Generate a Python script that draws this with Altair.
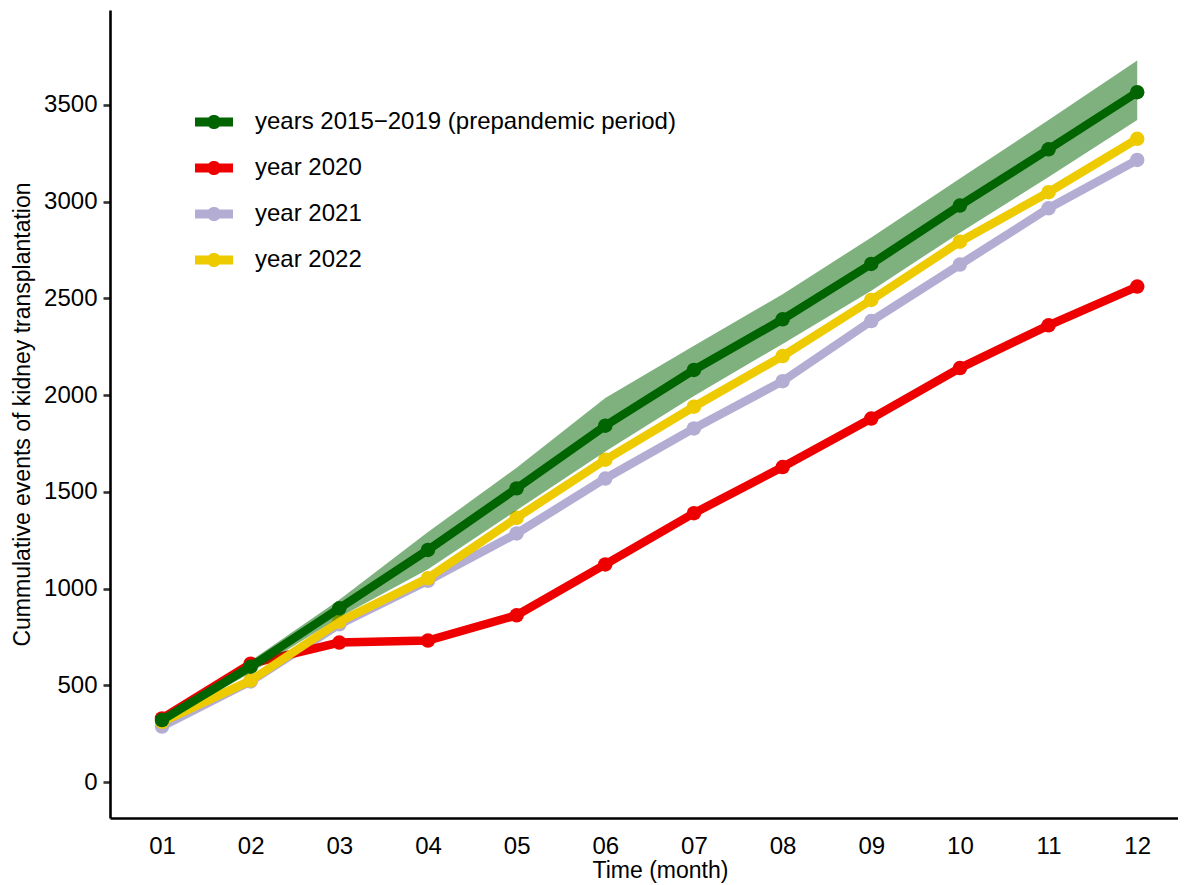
import math
import altair as alt
import pandas as pd

months = ["01", "02", "03", "04", "05", "06", "07", "08", "09", "10", "11", "12"]
series_names = ["years 2015\u22122019 (prepandemic period)", "year 2020", "year 2021", "year 2022"]
series_colors = ["#006400", "#EE0000", "#B3ADD3", "#EECA00"]

prepandemic = [320, 596, 898, 1200, 1518, 1842, 2130, 2392, 2678, 2980, 3271, 3566]
prepandemic_lower = [305, 565, 852, 1100, 1405, 1708, 1995, 2265, 2540, 2840, 3128, 3422]
prepandemic_upper = [335, 626, 942, 1292, 1625, 1985, 2255, 2522, 2815, 3120, 3422, 3730]
year2020 = [329, 612, 721, 731, 862, 1125, 1390, 1628, 1879, 2140, 2361, 2561]
year2021 = [287, 520, 815, 1040, 1285, 1569, 1828, 2072, 2383, 2675, 2966, 3216]
year2022 = [311, 525, 829, 1054, 1366, 1666, 1940, 2202, 2492, 2793, 3049, 3325]

y_ticks = [0, 500, 1000, 1500, 2000, 2500, 3000, 3500]

rows = []
for name, vals in zip(series_names, [prepandemic, year2020, year2021, year2022]):
    for i, (m, v) in enumerate(zip(months, vals)):
        rows.append({"series": name, "month": m, "mnum": i + 1, "value": v})
df = pd.DataFrame(rows)
band = pd.DataFrame({"month": months, "mnum": list(range(1, len(months) + 1)),
                     "lower": prepandemic_lower, "upper": prepandemic_upper})

FONT = "Liberation Sans"
month_label_expr = "[" + ",".join("'%s'" % m for m in months) + "][datum.value - 1]"

x_enc = alt.X(
    "mnum:Q",
    scale=alt.Scale(domain=[0.4134, 12.46], nice=False, zero=False),
    axis=alt.Axis(
        title="Time (month)", values=list(range(1, len(months) + 1)), labelExpr=month_label_expr,
        ticks=False, tickSize=0, labelPadding=16, labelFlush=False,
        titleX=550, titleY=59, titleBaseline="alphabetic", titleAlign="center",
    ),
)
y_scale = alt.Scale(domain=[-186, 3991], nice=False, zero=False)
y_enc = alt.Y(
    "value:Q",
    scale=y_scale,
    axis=alt.Axis(
        title="Cummulative events of kidney transplantation", values=y_ticks, format="d",
        tickSize=7, labelPadding=6, titleX=-88, titleY=404, titleAngle=270,
        titleBaseline="middle", titleAlign="center",
    ),
)

color_scale = alt.Scale(domain=series_names, range=series_colors)

# legend key glyph: a thick line segment with a dot in the middle (unit coords)
H = 0.24
R = 0.37


def _arc(a0, a1, n=12):
    pts = []
    for k in range(n + 1):
        a = math.radians(a0 + (a1 - a0) * k / n)
        pts.append("%.4f,%.4f" % (R * math.cos(a), R * math.sin(a)))
    return pts


a_top = math.degrees(math.atan2(-H, -math.sqrt(R * R - H * H)))
a_top2 = math.degrees(math.atan2(-H, math.sqrt(R * R - H * H)))
top_pts = _arc(a_top, a_top2)
bot_pts = _arc(-a_top2, -a_top)
legend_path = ("M-1,%.3f " % -H + " ".join("L" + p for p in top_pts)
               + " L1,%.3f L1,%.3f " % (-H, H) + " ".join("L" + p for p in bot_pts)
               + " L-1,%.3f Z" % H)

legend = alt.Legend(
    title=None, orient="none", legendX=85, legendY=93, symbolType=legend_path,
    symbolSize=1444, symbolStrokeWidth=0, symbolOpacity=1, labelOffset=22,
    labelFontSize=24, labelFont=FONT, labelColor="#000000", labelLimit=800,
    rowPadding=15, padding=0,
)


def series_layers(name, col):
    base = alt.Chart(df).transform_filter(alt.datum.series == name)
    line = base.mark_line(strokeWidth=8.5, color=col).encode(x=x_enc, y=y_enc)
    pts = base.mark_circle(size=210, opacity=1, strokeWidth=0).encode(
        x=x_enc, y=y_enc,
        color=alt.Color("series:N", scale=color_scale, legend=legend),
    )
    return [line, pts]


area = alt.Chart(band).mark_area(color=series_colors[0], opacity=0.5).encode(
    x=x_enc,
    y=alt.Y("lower:Q", scale=y_scale),
    y2="upper:Q",
)

layers = (series_layers(series_names[2], series_colors[2])
          + series_layers(series_names[1], series_colors[1])
          + series_layers(series_names[3], series_colors[3])
          + [area]
          + series_layers(series_names[0], series_colors[0]))

chart = alt.layer(*layers).properties(
    width=1068, height=808,
    autosize=alt.AutoSizeParams(type="none"),
    padding={"left": 102, "top": 2, "right": 0, "bottom": 67},
).configure_view(stroke=None).configure_axis(
    grid=False, domainColor="#000000", domainWidth=2.6, tickColor="#333333",
    tickWidth=2.6, labelFont=FONT, labelFontSize=24, labelColor="#000000",
    titleFont=FONT, titleFontSize=23, titleFontWeight="normal", titleColor="#000000",
)

chart.save("out.html", embed_options={"renderer": "svg", "actions": False})
